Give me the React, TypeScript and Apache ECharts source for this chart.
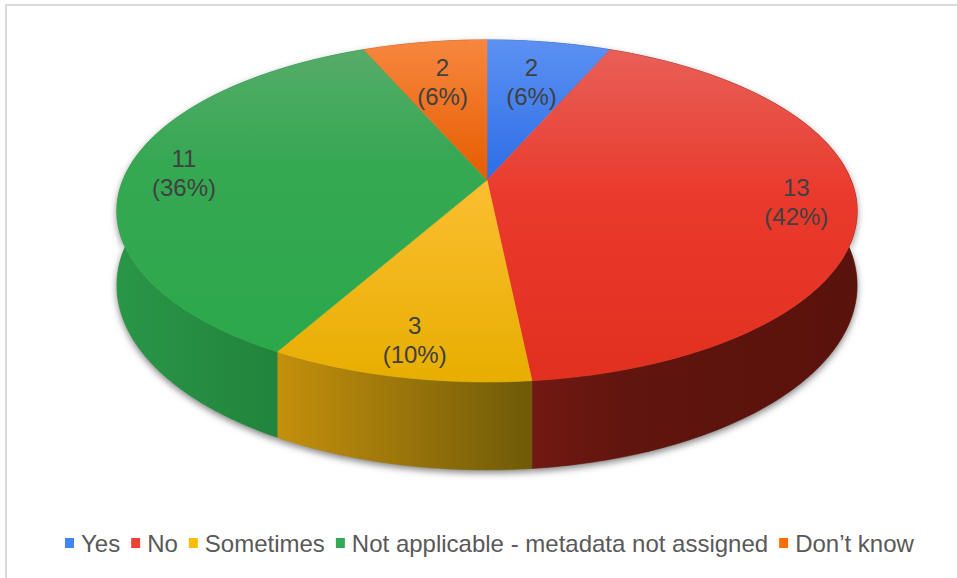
import React, { useEffect, useRef } from 'react';
import * as echarts from 'echarts';

// ---- data ----
const CATEGORIES = ['Yes', 'No', 'Sometimes', 'Not applicable - metadata not assigned', 'Don\u2019t know'];
const VALUES = [2, 13, 3, 11, 2];
const PERCENT_LABELS = [6, 42, 10, 36, 6];

// ---- styles ----
const COLORS = ['#4285f4', '#ea4335', '#fbbc04', '#34a853', '#ff6d01'];
const TOP_STOPS: [number, string][][] = [
  [[0, '#5c91f2'], [0.41, '#2c6de6'], [1, '#2c6de6']],
  [[0, '#e8625a'], [0.45, '#ea3a2d'], [1, '#e2301f']],
  [[0, '#fcc23a'], [0.42, '#fbbe30'], [1, '#e7ae00']],
  [[0, '#58ac6a'], [0.35, '#36a853'], [1, '#2aa84a']],
  [[0, '#f7873f'], [0.41, '#e65c00'], [1, '#e65c00']],
];
const WALL_STOPS: [number, string][][] = [
  [[0, '#1c4ea8'], [1, '#163f8a']],
  [[0, '#711912'], [0.3, '#60150e'], [1, '#5a120c']],
  [[0, '#c4900c'], [1, '#6f5a08']],
  [[0, '#299647'], [1, '#1e7a36']],
  [[0, '#a44000'], [1, '#8a3500']],
];

// projection parameters (layout)
const CX = 487;
const CY = 180;
const A = 364;
const B = 165.4;
const K = 0.181;
const D = 72;

function proj(theta: number, r: number, depth: number): [number, number] {
  const u = r * Math.sin(theta);
  const v = r * Math.cos(theta);
  const w = 1 + K * v;
  return [CX + (A * u) / w, CY + (-B * v + depth * D) / w];
}

function grad(x: number, y: number, x2: number, y2: number, stops: [number, string][]) {
  return {
    type: 'linear',
    x,
    y,
    x2,
    y2,
    global: true,
    colorStops: stops.map(([offset, color]) => ({ offset, color })),
  };
}

export default function App() {
  const ref = useRef<HTMLDivElement>(null);

  useEffect(() => {
    document.body.style.margin = '0';
    if (!ref.current) return;
    const chart = echarts.init(ref.current, null, { renderer: 'svg' });
    const total = VALUES.reduce((s, v) => s + v, 0);

    const makeRender = (idx: number) => (params: any, api: any) => {
      const value = api.value(0) as number;
      let before = 0;
      for (let j = 0; j < idx; j++) before += VALUES[j];
      const a0 = (before / total) * Math.PI * 2;
      const a1 = a0 + (value / total) * Math.PI * 2;
      const steps = Math.max(4, Math.ceil(((a1 - a0) * 180) / Math.PI));
      const topPts: [number, number][] = [];
      const botPts: [number, number][] = [];
      for (let s = 0; s <= steps; s++) {
        const t = a0 + ((a1 - a0) * s) / steps;
        topPts.push(proj(t, 1, 0));
        botPts.push(proj(t, 1, 1));
      }
      const c = proj(0, 0, 0);
      const topD =
        'M' + c[0] + ' ' + c[1] + ' ' + topPts.map((p) => 'L' + p[0].toFixed(2) + ' ' + p[1].toFixed(2)).join(' ') + ' Z';
      const wallD =
        'M' +
        topPts.map((p) => p[0].toFixed(2) + ' ' + p[1].toFixed(2)).join(' L') +
        ' L' +
        botPts
          .slice()
          .reverse()
          .map((p) => p[0].toFixed(2) + ' ' + p[1].toFixed(2))
          .join(' L') +
        ' Z';
      const xs = topPts.map((p) => p[0]);
      const minX = Math.min(...xs);
      const maxX = Math.max(...xs);
      const wallFill = grad(minX, 0, maxX === minX ? minX + 1 : maxX, 0, WALL_STOPS[idx]);
      const topFill = grad(0, CY - B / (1 + K), 0, CY + B / (1 - K), TOP_STOPS[idx]);

      const mid = (a0 + a1) / 2;
      const share = value / total;
      const lr = share < 0.08 ? 0.68 : 0.84;
      const lp = proj(mid, lr, 0);

      return {
        type: 'group',
        children: [
          {
            type: 'path',
            z2: 0,
            shape: { pathData: wallD },
            style: {
              fill: '#777',
              shadowBlur: 7,
              shadowOffsetY: 3,
              shadowColor: 'rgba(0,0,0,0.5)',
            },
          },
          {
            type: 'path',
            z2: 1,
            shape: { pathData: wallD },
            style: { fill: wallFill, stroke: wallFill, lineWidth: 0.6 },
          },
          {
            type: 'path',
            z2: 10,
            shape: { pathData: topD },
            style: { fill: topFill, stroke: topFill, lineWidth: 0.6 },
          },
          {
            type: 'text',
            z2: 20,
            x: lp[0],
            y: lp[1],
            style: {
              text: value + '\n(' + PERCENT_LABELS[idx] + '%)',
              fill: '#404040',
              fontSize: 24,
              fontFamily: '"Liberation Sans", Arial, sans-serif',
              lineHeight: 29,
              align: 'center',
              verticalAlign: 'middle',
            },
          },
        ],
      };
    };

    const series = CATEGORIES.map((name, i) => ({
      type: 'custom',
      name,
      coordinateSystem: 'none',
      data: [VALUES[i]],
      itemStyle: { color: COLORS[i] },
      renderItem: makeRender(i),
      silent: true,
    }));

    chart.setOption({
      animation: false,
      backgroundColor: '#ffffff',
      color: COLORS,
      legend: {
        data: CATEGORIES,
        left: 60,
        top: 526,
        icon: 'rect',
        itemWidth: 9,
        itemHeight: 10,
        itemGap: 11,
        textStyle: {
          fontSize: 24,
          color: '#595959',
          fontFamily: '"Liberation Sans", Arial, sans-serif',
          padding: [0, 0, 0, 2],
        },
      },
      graphic: [
        {
          type: 'rect',
          silent: true,
          shape: { x: 6, y: 5, width: 980, height: 620 },
          style: { fill: 'none', stroke: '#dadada', lineWidth: 2 },
        },
      ],
      series,
    });

    return () => chart.dispose();
  }, []);

  return <div ref={ref} style={{ width: 957, height: 578 }} />;
}
